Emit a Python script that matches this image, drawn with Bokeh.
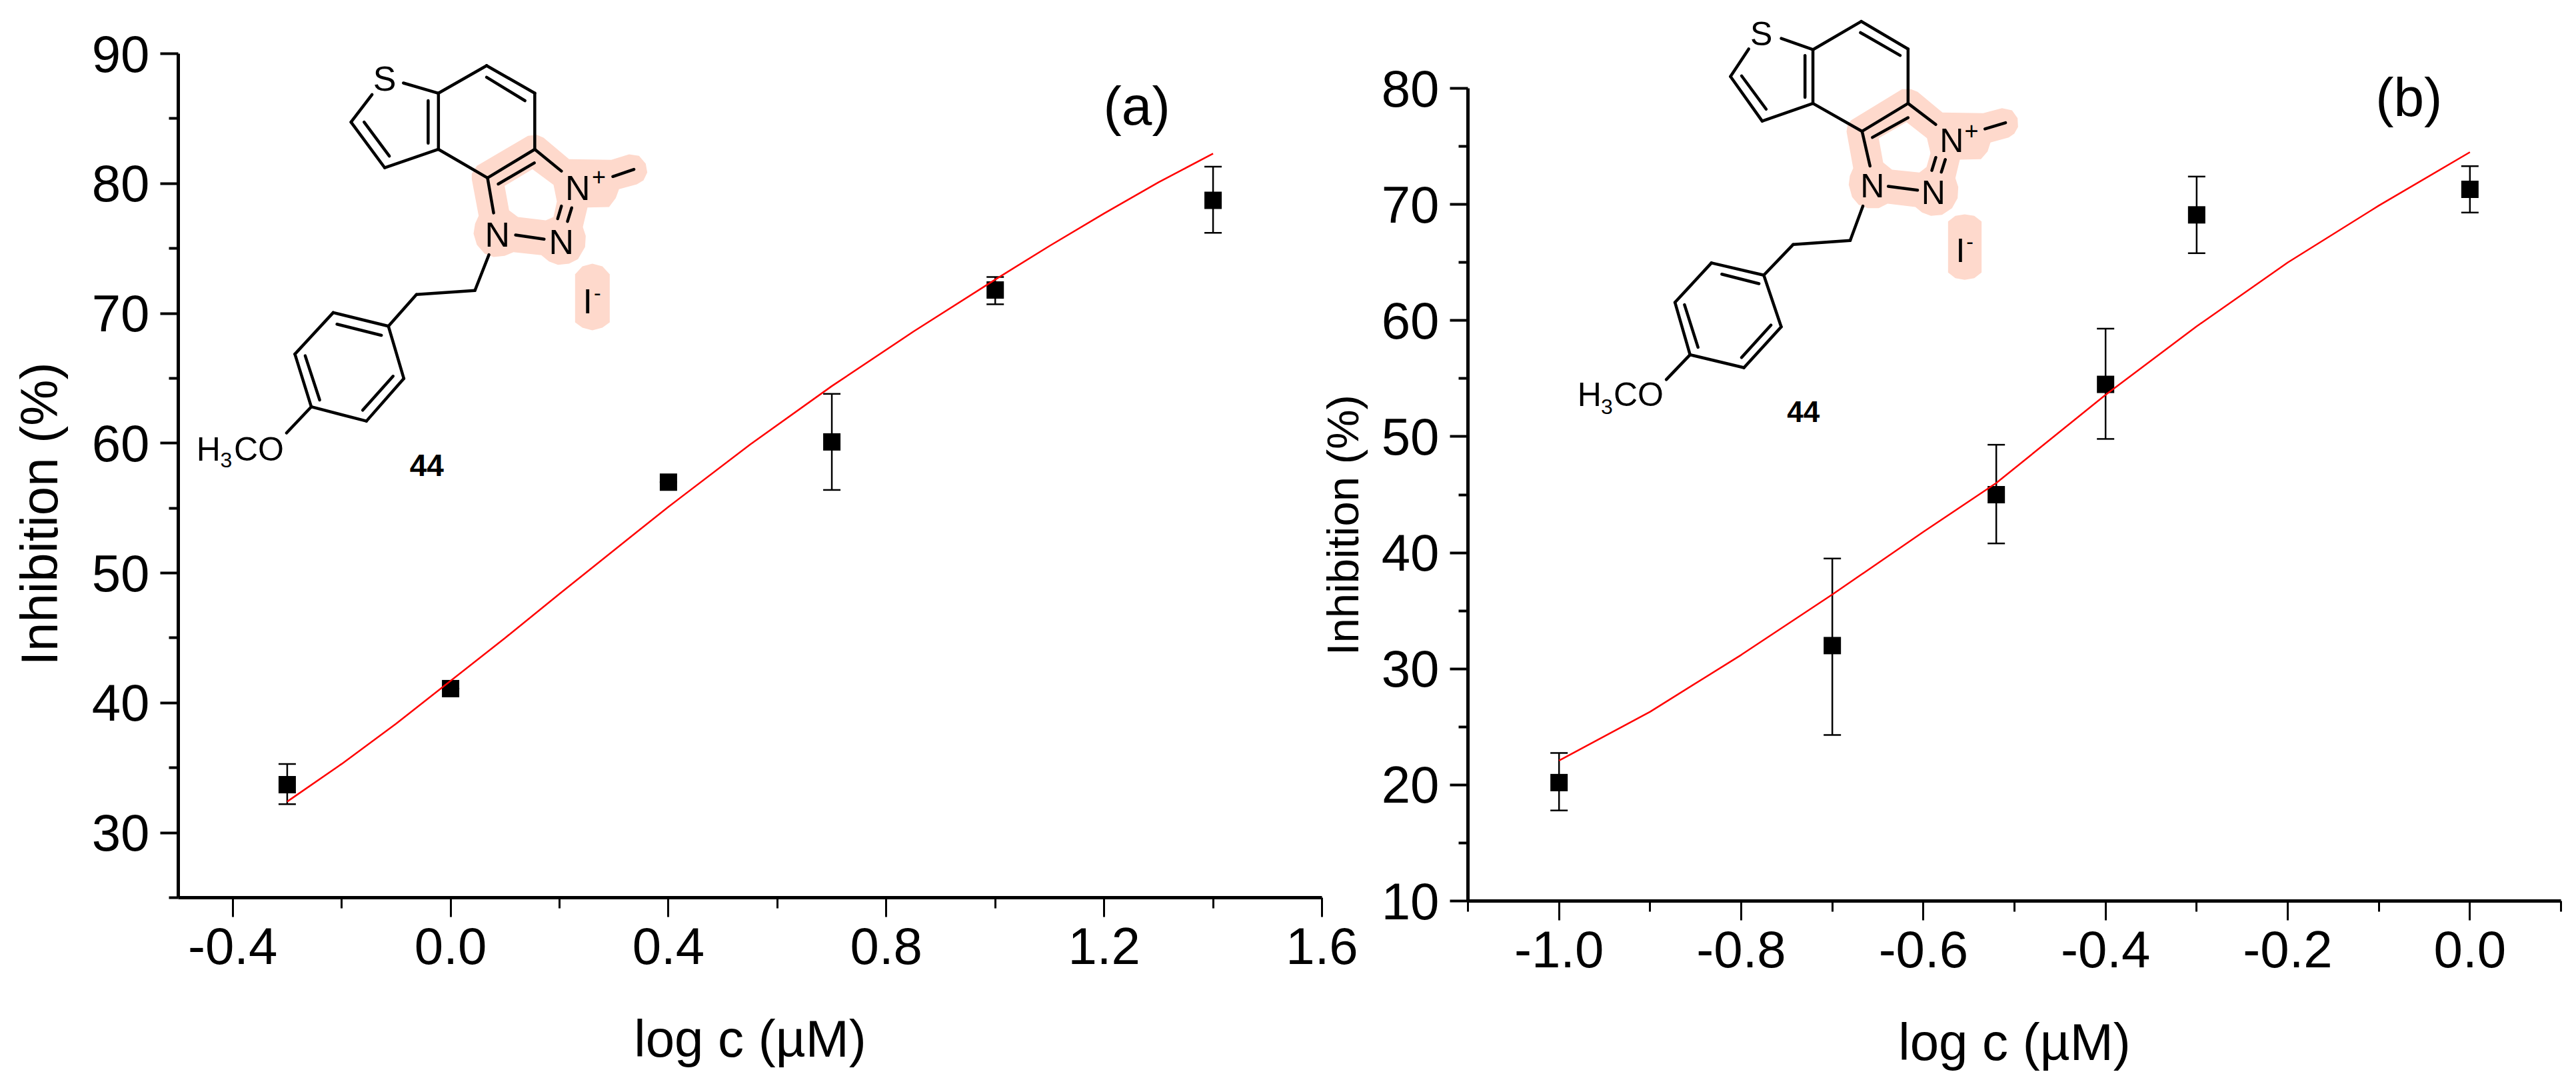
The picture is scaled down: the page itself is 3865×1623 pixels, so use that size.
from bokeh.plotting import figure
from bokeh.layouts import row
from bokeh.models import (ColumnDataSource, Whisker, TeeHead, FixedTicker, Arrow, Label)
from bokeh.embed import file_html
from bokeh.resources import INLINE

# ---------- data ----------
xa = [-0.3, 0.0, 0.4, 0.7, 1.0, 1.4]
ya = [33.7, 41.1, 57.0, 60.1, 71.8, 78.7]
ya_hi = [35.3, 41.1, 57.0, 63.8, 72.8, 81.3]
ya_lo = [32.2, 41.1, 57.0, 56.4, 70.7, 76.2]
fit_xa = [-0.3, -0.2, -0.1, 0.0, 0.1, 0.2, 0.34, 0.4, 0.55, 0.7, 0.85, 1.0, 1.1, 1.2, 1.3, 1.4]
fit_ya = [32.4, 35.3, 38.4, 41.7, 45.0, 48.4, 53.1, 55.1, 59.9, 64.4, 68.6, 72.6, 75.2, 77.7, 80.1, 82.3]

xb = [-1.0, -0.7, -0.52, -0.4, -0.3, 0.0]
yb = [20.2, 32.0, 45.0, 54.5, 69.1, 71.3]
yb_hi = [22.75, 39.5, 49.3, 59.3, 72.4, 73.3]
yb_lo = [17.8, 24.3, 40.8, 49.8, 65.8, 69.3]
fit_xb = [-1.0, -0.9, -0.8, -0.7, -0.6, -0.52, -0.4, -0.3, -0.2, -0.1, 0.0]
fit_yb = [22.1, 26.3, 31.2, 36.4, 41.8, 46.0, 53.6, 59.5, 65.0, 69.9, 74.5]

xa_major = [-0.4, 0.0, 0.4, 0.8, 1.2, 1.6]
xa_labels = ["-0.4", "0.0", "0.4", "0.8", "1.2", "1.6"]
xa_minor = [-0.2, 0.2, 0.6, 1.0, 1.4]
ya_major = [30, 40, 50, 60, 70, 80, 90]
ya_minor = [25, 35, 45, 55, 65, 75, 85]
xb_major = [-1.0, -0.8, -0.6, -0.4, -0.2, 0.0]
xb_labels = ["-1.0", "-0.8", "-0.6", "-0.4", "-0.2", "0.0"]
xb_minor = [-1.1, -0.9, -0.7, -0.5, -0.3, -0.1, 0.1]
yb_major = [10, 20, 30, 40, 50, 60, 70, 80]
yb_minor = [15, 25, 35, 45, 55, 65, 75]

FONT = "Liberation Sans"
PINK = "#FED9CC"
TOP = 0  # figure y of the frame top; the y axis itself stops at its bound
HEIGHT = 1607


def make_panel(box, xr, yr, xs, ys, hi, lo, fx, fy, xt, xl, xm, yt, ym, left, right, ylabel, title_size, title_off, margin=(0, 0, 0, 0)):
    L, T, R, B = box
    y_end = yr[1] + (T - TOP) / (B - T) * (yr[1] - yr[0])
    p = figure(
        x_range=xr, y_range=(yr[0], y_end), output_backend="svg", toolbar_location=None,
        frame_width=R - L, frame_height=B - TOP,
        min_border_left=left, min_border_right=right,
        min_border_top=0, min_border_bottom=HEIGHT - B,
        background_fill_color=None, border_fill_color=None, outline_line_color=None,
        margin=margin,
    )
    p.grid.visible = False
    p.xaxis.ticker = FixedTicker(ticks=xt, minor_ticks=xm)
    p.yaxis.ticker = FixedTicker(ticks=yt, minor_ticks=ym)
    p.yaxis.bounds = yr
    p.xaxis.major_label_overrides = {t: s for t, s in zip(xt, xl)}
    p.xaxis.axis_label = "log c (µM)"
    p.yaxis.axis_label = ylabel
    for ax, lw in ((p.xaxis[0], 3), (p.yaxis[0], 4)):
        ax.axis_line_width = 5
        ax.axis_line_color = "black"
        ax.major_tick_line_width = lw
        ax.minor_tick_line_width = lw
        ax.major_tick_line_color = "black"
        ax.minor_tick_line_color = "black"
        ax.major_tick_in = 0
        ax.minor_tick_in = 0
        ax.major_label_text_font = FONT
        ax.major_label_text_font_size = "78px"
        ax.major_label_text_color = "black"
        ax.axis_label_text_font = FONT
        ax.axis_label_text_font_size = "78px"
        ax.axis_label_text_font_style = "normal"
        ax.axis_label_text_color = "black"
    p.yaxis.axis_label_text_font_size = f"{title_size}px"
    p.xaxis.major_tick_out = 29
    p.xaxis.minor_tick_out = 16
    p.xaxis.major_label_standoff = 16
    p.xaxis.axis_label_standoff = 65
    p.yaxis.major_tick_out = 27
    p.yaxis.minor_tick_out = 14
    p.yaxis.major_label_standoff = 16
    p.yaxis.axis_label_standoff = title_off

    src = ColumnDataSource(dict(x=xs, y=ys, hi=hi, lo=lo))
    p.add_layout(Whisker(
        source=src, base="x", upper="hi", lower="lo", line_color="black", line_width=2.5,
        upper_head=TeeHead(size=26, line_width=2.5, line_color="black"),
        lower_head=TeeHead(size=26, line_width=2.5, line_color="black"),
    ))
    p.scatter("x", "y", source=src, marker="square", size=26, color="black", line_width=0)
    p.line(fx, fy, line_color="#ff0000", line_width=2.5)
    return p


def mapper(box, xr, yr, sx, sy, ox, oy):
    L, T, R, B = box

    def dx(v):
        return xr[0] + ((ox + v / sx) - L) / (R - L) * (xr[1] - xr[0])

    def dy(v):
        return yr[1] - ((oy + v / sy) - T) / (B - T) * (yr[1] - yr[0])

    return dx, dy


def draw_pink(p, dx, dy, outer, hole, pill):
    p.multi_polygons(
        xs=[[[[dx(a) for a, _ in outer], [dx(a) for a, _ in hole]]], [[[dx(a) for a, _ in pill]]]],
        ys=[[[[dy(b) for _, b in outer], [dy(b) for _, b in hole]]], [[[dy(b) for _, b in pill]]]],
        fill_color=PINK, line_color=None, level="underlay",
    )


def draw_bonds(p, dx, dy, bonds, w):
    x0, y0, x1, y1 = [], [], [], []
    for path in bonds:
        for a, b in zip(path[:-1], path[1:]):
            x0.append(dx(a[0])); y0.append(dy(a[1]))
            x1.append(dx(b[0])); y1.append(dy(b[1]))
    src = ColumnDataSource(dict(x0=x0, y0=y0, x1=x1, y1=y1))
    p.segment("x0", "y0", "x1", "y1", source=src, line_color="black", line_width=w, line_cap="round")


def draw_texts(p, dx, dy, texts):
    for tx, ty, s, size, style in texts:
        p.add_layout(Label(x=dx(tx), y=dy(ty), text=s, text_font=FONT, text_font_size=f"{size}px",
                           text_font_style=style, text_align="center", text_baseline="middle",
                           text_color="black"))


NB = "\u00a0"
box_a = (267, 80, 1983, 1346)
xr_a, yr_a = (-0.5, 1.6), (25, 90)
pa = make_panel(box_a, xr_a, yr_a, xa, ya, ya_hi, ya_lo, fit_xa, fit_ya, xa_major, xa_labels, xa_minor,
                ya_major, ya_minor, 267, 70, "Inhibition (%)" + NB * 9, 78, 32)

box_b = (2202, 132, 3842, 1351)
xr_b, yr_b = (-1.1, 0.1), (10, 80)
pb = make_panel(box_b, xr_b, yr_b, xb, yb, yb_hi, yb_lo, fit_xb, fit_yb, xb_major, xb_labels, xb_minor,
                yb_major, yb_minor, 252, 16, "Inhibition (%)" + NB * 12, 67, 18, margin=(0, 0, 0, -103))

# --- inset (a): traced in crops of the source -----------------------------------
bonds_a = [
    [(862, 243), (937, 273), (1040, 192), (1143, 273), (1143, 438), (1042, 522), (937, 438), (937, 273)],
    [(937, 438), (822, 492), (750, 358), (795, 277)],
    [(915, 295), (915, 420)], [(1040, 226), (1122, 295)], [(778, 358), (832, 458)], [(1065, 540), (1142, 478)],
    [(1143, 438), (1200, 502)], [(1042, 522), (1055, 625)], [(1102, 690), (1163, 702)],
    [(1200, 605), (1192, 642)], [(1222, 610), (1213, 650)], [(1310, 518), (1355, 497)],
    [(1045, 748), (1015, 853), (890, 865), (830, 958), (712, 918), (630, 1040), (665, 1195), (783, 1237), (863, 1112), (830, 958)],
    [(720, 952), (815, 985)], [(652, 1045), (683, 1175)], [(775, 1205), (840, 1105)], [(665, 1195), (612, 1272)],
]
outer_a = [(875, 550), (915, 545), (945, 558), (1060, 655), (1250, 658), (1330, 633), (1375, 640), (1405, 675),
           (1412, 715), (1395, 750), (1365, 768), (1285, 790), (1270, 830), (1240, 870), (1143, 872), (1122, 960),
           (1135, 1000), (1132, 1050), (1100, 1105), (1060, 1125), (1010, 1130), (970, 1115), (935, 1087), (810, 1073),
           (770, 1090), (720, 1095), (680, 1080), (645, 1040), (630, 990), (637, 945), (653, 910), (622, 745),
           (622, 720), (645, 685)]
hole_a = [(770, 775), (895, 700), (990, 770), (1005, 845), (990, 915), (955, 930), (830, 915), (790, 885)]
pill_a = [(1087, 1173), (1120, 1137), (1165, 1125), (1210, 1137), (1243, 1173), (1243, 1389), (1210, 1413),
          (1165, 1425), (1120, 1413), (1087, 1389)]
texts_a = [
    (822, 230, "S", 52, "normal"), (1063, 688, "N", 52, "normal"), (1200, 710, "N", 52, "normal"),
    (1235, 552, "N", 52, "normal"), (1280, 518, "+", 36, "normal"), (1256, 884, "I", 52, "normal"),
    (1277, 860, "-", 32, "normal"), (445, 1320, "H", 50, "normal"), (483, 1352, "3", 32, "normal"),
    (553, 1320, "CO", 50, "normal"), (912, 1368, "44", 46, "bold"),
]
draw_pink(pa, *mapper(box_a, xr_a, yr_a, 3, 3, 500, 20), outer_a, hole_a, pill_a)
da = mapper(box_a, xr_a, yr_a, 1568 / 1100, 1568 / 800, 0, 0)
draw_bonds(pa, *da, bonds_a, 4.5)
draw_texts(pa, *da, texts_a)
pa.add_layout(Label(x=1.26, y=86.0, text="(a)", text_font=FONT, text_font_size="82px",
                    text_align="center", text_baseline="middle", text_color="black"))

# --- inset (b) ------------------------------------------------------------------
bonds_b = [
    [(565, 112), (605, 145), (666, 62), (725, 143), (725, 303), (667, 385), (605, 303), (605, 145)],
    [(605, 303), (541, 355), (501, 224), (524, 143)],
    [(595, 162), (595, 285)], [(665, 95), (715, 162)], [(515, 222), (546, 320)], [(680, 403), (725, 345)],
    [(725, 303), (760, 365)], [(667, 385), (677, 487)], [(700, 547), (737, 558)],
    [(760, 462), (755, 500)], [(772, 468), (767, 505)], [(822, 378), (848, 360)],
    [(668, 605), (652, 706), (580, 718), (543, 808), (477, 772), (431, 888), (450, 1042), (518, 1080), (565, 960), (543, 808)],
    [(490, 805), (537, 833)], [(443, 895), (460, 1020)], [(515, 1050), (552, 955)], [(450, 1042), (420, 1115)],
]
outer_b = [(400, 70), (440, 70), (470, 82), (582, 175), (765, 178), (850, 155), (895, 165), (920, 200), (922, 240),
           (905, 270), (880, 287), (798, 310), (785, 350), (755, 385), (660, 387), (640, 470), (653, 510), (650, 560),
           (625, 605), (580, 635), (530, 640), (490, 625), (460, 600), (335, 585), (295, 605), (245, 605), (205, 590),
           (175, 555), (160, 500), (165, 460), (180, 425), (150, 260), (155, 230), (170, 210)]
hole_b = [(295, 290), (420, 218), (512, 290), (528, 358), (510, 420), (478, 445), (355, 432), (315, 400)]
pill_b = [(607, 665), (640, 640), (682, 633), (725, 640), (758, 665), (758, 895), (725, 920), (682, 928), (640, 920), (607, 895)]
texts_b = [
    (540, 98, "S", 50, "normal"), (680, 545, "N", 50, "normal"), (757, 565, "N", 50, "normal"),
    (780, 412, "N", 50, "normal"), (805, 383, "+", 36, "normal"), (791, 735, "I", 50, "normal"),
    (803, 708, "-", 32, "normal"), (323, 1160, "H", 50, "normal"), (345, 1195, "3", 32, "normal"),
    (385, 1160, "CO", 50, "normal"), (593, 1210, "44", 44, "bold"),
]
draw_pink(pb, *mapper(box_b, xr_b, yr_b, 3, 3, 2720, 110), outer_b, hole_b, pill_b)
db = mapper(box_b, xr_b, yr_b, 1568 / 1865, 1568 / 800, 2000, 0)
draw_bonds(pb, *db, bonds_b, 4.5)
draw_texts(pb, *db, texts_b)
pb.add_layout(Label(x=-0.067, y=79.25, text="(b)", text_font=FONT, text_font_size="82px",
                    text_align="center", text_baseline="middle", text_color="black"))

layout = row(pa, pb, spacing=0)
open("out.html", "w").write(file_html(layout, INLINE))
